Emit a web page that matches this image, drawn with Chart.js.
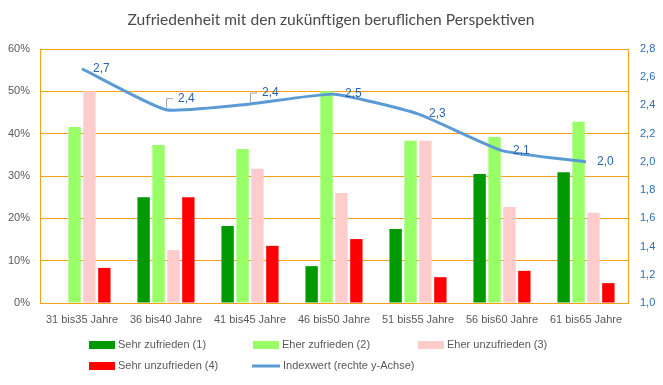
<!DOCTYPE html>
<html>
<head>
<meta charset="utf-8">
<script src="https://cdn.jsdelivr.net/npm/chart.js@4"></script>
<style>
  html, body { margin: 0; padding: 0; background: #fff; }
  #wrap { width: 663px; height: 385px; }
</style>
</head>
<body>
<div id="wrap"><canvas id="zufriedenChart" width="663" height="385"></canvas></div>
<script>
const categories = ['31 bis35 Jahre', '36 bis40 Jahre', '41 bis45 Jahre', '46 bis50 Jahre', '51 bis55 Jahre', '56 bis60 Jahre', '61 bis65 Jahre'];
const sehrZufrieden = [0, 25.0, 18.2, 8.7, 17.5, 30.5, 30.9];
const eherZufrieden = [41.6, 37.3, 36.4, 50.0, 38.3, 39.2, 42.8];
const eherUnzufrieden = [50.0, 12.5, 31.7, 26.0, 38.3, 22.7, 21.3];
const sehrUnzufrieden = [8.3, 25.0, 13.5, 15.1, 6.1, 7.6, 4.7];
const indexwert = [2.66, 2.37, 2.41, 2.48, 2.34, 2.08, 2.00];
const indexLabels = ['2,7', '2,4', '2,4', '2,5', '2,3', '2,1', '2,0'];

const ORANGE = '#f7a01a';
const FONT = "'Liberation Sans', Arial, sans-serif";

// Titel, Datenbeschriftungen und Legende selbst zeichnen
const extrasPlugin = {
    id: 'extras',
    afterDatasetsDraw(chart) {
        const ctx = chart.ctx;
        const meta = chart.getDatasetMeta(0);
        ctx.save();
        ctx.font = '12px ' + FONT;
        ctx.fillStyle = '#2a64ad';
        ctx.textBaseline = 'middle';
        ctx.textAlign = 'left';
        meta.data.forEach((pt, i) => {
            const lifted = (i === 1 || i === 2);
            const dy = lifted ? -11 : 0;
            if (lifted) {
                ctx.strokeStyle = '#a6a6a6';
                ctx.lineWidth = 1;
                ctx.beginPath();
                ctx.moveTo(pt.x + 0.5, pt.y - 2);
                ctx.lineTo(pt.x + 0.5, pt.y + dy);
                ctx.lineTo(pt.x + 7, pt.y + dy);
                ctx.stroke();
            }
            ctx.fillText(indexLabels[i], pt.x + (lifted ? 12 : 11), pt.y + dy);
        });
        ctx.restore();
    },
    afterDraw(chart) {
        const ctx = chart.ctx;
        ctx.save();
        ctx.fillStyle = '#4a4a4a';
        ctx.font = '15.6px Lato, ' + FONT;
        ctx.textAlign = 'center';
        ctx.textBaseline = 'middle';
        ctx.fillText('Zufriedenheit mit den zukünftigen beruflichen Perspektiven', 331, 20);

        const items = [
            { ds: 1, x: 89, y: 345 }, { ds: 2, x: 253, y: 345 }, { ds: 3, x: 418, y: 345 },
            { ds: 4, x: 89, y: 366 }, { ds: 0, x: 252, y: 366 }
        ];
        ctx.font = '11px ' + FONT;
        ctx.textAlign = 'left';
        items.forEach(it => {
            const ds = chart.data.datasets[it.ds];
            if (ds.type === 'line') {
                ctx.strokeStyle = ds.borderColor;
                ctx.lineWidth = 3;
                ctx.beginPath();
                ctx.moveTo(it.x, it.y);
                ctx.lineTo(it.x + 28, it.y);
                ctx.stroke();
                ctx.fillStyle = '#595959';
                ctx.fillText(ds.label, it.x + 31, it.y);
            } else {
                ctx.fillStyle = ds.backgroundColor;
                ctx.fillRect(it.x, it.y - 4, 26, 8);
                ctx.fillStyle = '#595959';
                ctx.fillText(ds.label, it.x + 29, it.y);
            }
        });
        ctx.restore();
    }
};

new Chart(document.getElementById('zufriedenChart'), {
    type: 'bar',
    data: {
        labels: categories,
        datasets: [{
            type: 'line',
            label: 'Indexwert (rechte y-Achse)',
            data: indexwert,
            yAxisID: 'y1',
            borderColor: '#5b9bd5',
            borderWidth: 3,
            pointRadius: 0,
            tension: 0.15,
            order: 0
        }, {
            label: 'Sehr zufrieden (1)',
            data: sehrZufrieden,
            backgroundColor: '#009900',
            order: 1
        }, {
            label: 'Eher zufrieden (2)',
            data: eherZufrieden,
            backgroundColor: '#99ff66',
            order: 1
        }, {
            label: 'Eher unzufrieden (3)',
            data: eherUnzufrieden,
            backgroundColor: '#ffcccc',
            order: 1
        }, {
            label: 'Sehr unzufrieden (4)',
            data: sehrUnzufrieden,
            backgroundColor: '#ff0000',
            order: 1
        }]
    },
    options: {
        responsive: false,
        animation: false,
        categoryPercentage: 0.71,
        barPercentage: 0.83,
        layout: { padding: { top: 49, bottom: 57, left: 0, right: 0 } },
        plugins: {
            legend: { display: false },
            title: { display: false },
            tooltip: { enabled: false }
        },
        scales: {
            x: {
                grid: { display: false },
                border: { color: ORANGE, width: 1 },
                ticks: { color: '#595959', font: { family: FONT, size: 11 }, padding: 2, maxRotation: 0 },
                afterFit: (s) => { s.height = 25; }
            },
            y: {
                min: 0, max: 60,
                ticks: { stepSize: 10, color: '#595959', font: { family: FONT, size: 11 }, padding: 10,
                    callback: (v) => v + '%' },
                grid: { color: ORANGE, drawTicks: false },
                border: { color: ORANGE },
                afterFit: (s) => { s.width = 40; }
            },
            y1: {
                position: 'right',
                min: 1.0, max: 2.8,
                ticks: { stepSize: 0.2, color: '#2e6db4', font: { family: FONT, size: 11 }, padding: 12,
                    callback: (v) => v.toFixed(1).replace('.', ',') },
                grid: { display: false, drawTicks: false },
                border: { color: ORANGE },
                afterFit: (s) => { s.width = 35; }
            }
        }
    },
    plugins: [extrasPlugin]
});
</script>
</body>
</html>
